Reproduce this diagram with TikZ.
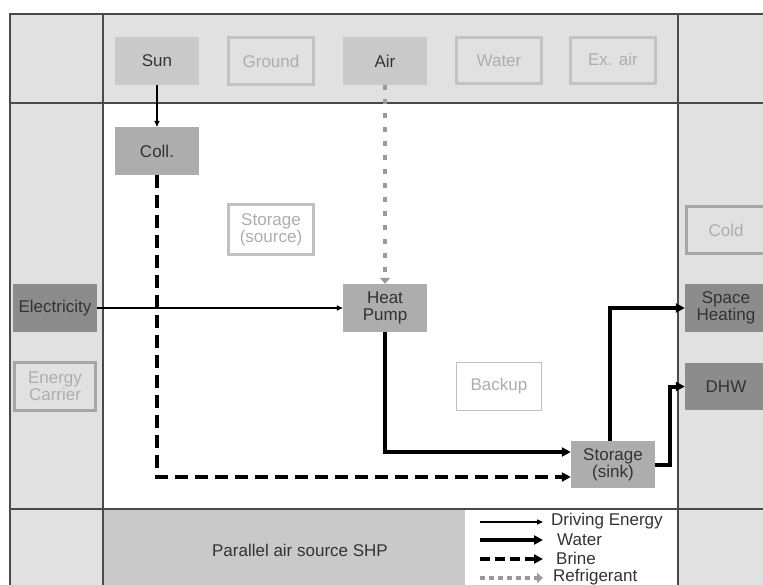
\documentclass[tikz,border=0pt]{standalone}
\usepackage{fontspec}
\setmainfont{Liberation Sans}
\usetikzlibrary{arrows.meta}

\definecolor{bandgray}{HTML}{E1E1E1}
\definecolor{midgray}{HTML}{C9C9C9}
\definecolor{boxmid}{HTML}{ADADAD}
\definecolor{boxdark}{HTML}{8C8C8C}
\definecolor{textdark}{HTML}{333333}
\definecolor{textlight}{HTML}{ADADAD}
\definecolor{rimgray}{HTML}{C2C2C2}
\definecolor{rimdark}{HTML}{A6A6A6}
\definecolor{gridline}{HTML}{4A4A4A}
\definecolor{refrig}{HTML}{9A9A9A}

\tikzset{
  lbl/.style={font=\fontsize{17}{17}\selectfont, text=textdark, align=center},
  unit/.style={lbl, rectangle, inner sep=0pt, minimum width=84pt, minimum height=48pt},
  litebox/.style={unit, fill=midgray},
  midbox/.style={unit, fill=boxmid},
  darkbox/.style={unit, fill=boxdark},
  ghostbox/.style={unit, draw=rimgray, line width=3pt, text=textlight},
  gridrule/.style={draw=gridline, line width=1.3pt},
  drive/.style={line width=1.4pt, -{Triangle[length=6pt,width=5pt]}},
  water/.style={line width=4pt, -{Triangle[length=9pt,width=9pt]}},
  brine/.style={line width=4pt, dash pattern=on 13pt off 7pt, -{Triangle[length=9pt,width=9pt]}},
  refrigerant/.style={draw=refrig, line width=4pt, dash pattern=on 5pt off 9pt,
    -{Triangle[length=6pt,width=10pt,fill=refrig]}},
}

\begin{document}
\begin{tikzpicture}[x=1pt, y=-1pt]
\useasboundingbox (0,0) rectangle (763,585);
\clip (0,0) rectangle (763,585);

% cell backgrounds
\fill[bandgray] (10,14) rectangle (780,600);
\fill[white] (103,103) rectangle (678,509);
\fill[midgray] (103,509) rectangle (465,600);
\fill[white] (465,509) rectangle (678,600);

% grid rules
\draw[gridrule] (10,600) -- (10,14) -- (780,14);
\draw[gridrule] (10,103) -- (780,103);
\draw[gridrule] (10,509) -- (780,509);
\draw[gridrule] (103,14) -- (103,600);
\draw[gridrule] (678,14) -- (678,600);

% sources
\node[litebox] (sun) at (157,61) {Sun};
\node[ghostbox, fill=bandgray, minimum width=85pt, minimum height=47pt] (ground) at (271,61) {Ground};
\node[litebox] (air) at (385,61) {Air};
\node[ghostbox, fill=bandgray, minimum width=85pt, minimum height=46pt] (water) at (499,61) {Water};
\node[ghostbox, fill=bandgray, minimum width=85pt, minimum height=46pt] (exair) at (613,61) {\raisebox{3pt}{Ex. air}};

% system components
\node[midbox] (coll) at (157,151) {Coll.};
\node[ghostbox, fill=white, minimum width=85pt, minimum height=50pt, draw=rimgray] (stsrc) at (271,229.5) {Storage\\(source)};
\node[midbox] (hp) at (385,308) {Heat\\Pump};
\node[unit, draw=rimgray, line width=1.6pt, text=textlight, fill=white, minimum width=85pt, minimum height=48pt] (backup) at (499,386.5) {Backup};
\node[midbox, minimum height=47pt] (sink) at (613,464.5) {Storage\\(sink)};

% energy carriers
\node[darkbox] (elec) at (55,308) {Electricity};
\node[ghostbox, draw=rimdark, fill=bandgray, minimum width=81pt, minimum height=48pt] (carrier) at (55,386.5) {Energy\\Carrier};

% sinks
\node[ghostbox, draw=rimdark, fill=bandgray, minimum width=79pt, minimum height=47pt] (cold) at (726,230) {Cold};
\node[darkbox, minimum width=82pt] (space) at (726,308) {Space\\Heating};
\node[darkbox, minimum width=82pt, minimum height=47pt] (dhw) at (726,386.5) {DHW};

% bottom row caption
\node[lbl] (caption) at (300,550) {Parallel air source SHP};

% flows
\draw[drive] (sun.south) -- (coll.north);
\draw[drive] (elec.east) -- (hp.west);
\draw[refrigerant] (air.south) -- (hp.north);
\draw[brine] (coll.south) |- ([yshift=-12.5pt]sink.west);
\draw[water] (hp.south) |- ([yshift=12.5pt]sink.west);
\draw[water] ([xshift=-3pt]sink.north) |- (space.west);
\draw[water] ([yshift=-0.5pt]sink.east) -- ++(15,0) |- (dhw.west);

% legend
\coordinate (k1a) at (480,522); \coordinate (k1b) at (543,522);
\coordinate (k2a) at (480,540); \coordinate (k2b) at (543,540);
\coordinate (k3a) at (480,559); \coordinate (k3b) at (543,559);
\coordinate (k4a) at (480,578); \coordinate (k4b) at (543,578);
\draw[drive] (k1a) -- (k1b);
\draw[water] (k2a) -- (k2b);
\draw[brine, dash pattern=on 10pt off 5pt] (k3a) -- (k3b);
\draw[refrigerant, dash pattern=on 5pt off 4pt] (k4a) -- (k4b);
\node[lbl, anchor=west, inner sep=0pt] (t1) at (551,521) {Driving Energy};
\node[lbl, anchor=west, inner sep=0pt] (t2) at (557,540) {Water};
\node[lbl, anchor=west, inner sep=0pt] (t3) at (556,558) {Brine};
\node[lbl, anchor=west, inner sep=0pt] (t4) at (553,577) {Refrigerant};
\end{tikzpicture}
\end{document}
